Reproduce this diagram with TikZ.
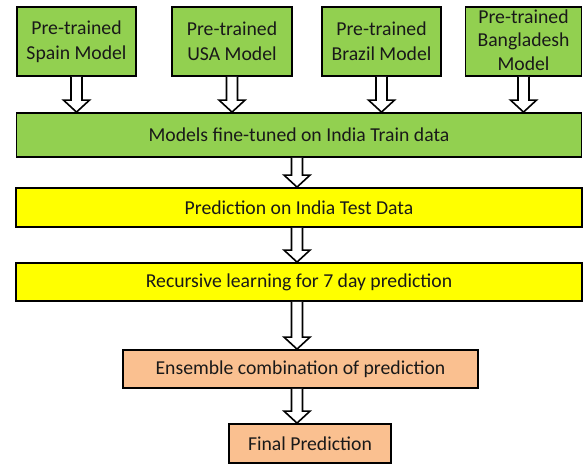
\documentclass[tikz,border=0pt]{standalone}
\usepackage{fontspec}
\setmainfont{Carlito}
\usetikzlibrary{calc}
\definecolor{grn}{HTML}{92D050}
\definecolor{ylw}{HTML}{FFFF00}
\definecolor{org}{HTML}{FAC090}
\tikzset{
  box/.style={draw=black, line width=1.8pt, inner sep=0pt, align=center, font=\fontsize{19.7}{25}\selectfont, text=black!90},
  gbox/.style={box, fill=grn},
  ybox/.style={box, fill=ylw},
  obox/.style={box, fill=org},
  arrowline/.style={draw=black, line width=1.6pt, fill=white, line join=miter},
}
\newcommand\fatarr[3]{%
  \draw[arrowline] let \p1=(#1.south), \p2=(#2.north) in
   (#3-5.5pt,\y1) -- (#3-5.5pt,\y2+12pt) -- (#3-13pt,\y2+12pt) -- (#3,\y2)
   -- (#3+13pt,\y2+12pt) -- (#3+5.5pt,\y2+12pt) -- (#3+5.5pt,\y1);}
\begin{document}
\begin{tikzpicture}[x=1pt,y=-1pt]
\useasboundingbox (0,0) rectangle (583,464);
\node[gbox, minimum width=119pt, minimum height=69pt] (spain) at (76.5,41.5) {Pre-trained\\Spain Model};
\node[gbox, minimum width=120pt, minimum height=69pt] (usa) at (232,41.5) {Pre-trained\\USA Model};
\node[gbox, minimum width=119pt, minimum height=69pt] (brazil) at (381.5,41.5) {Pre-trained\\Brazil Model};
\node[gbox, minimum width=116pt, minimum height=69pt] (bang) at (523.5,41.5) {};
\node[font=\fontsize{19.7}{23.5}\selectfont, align=center, text=black!90, inner sep=0pt] (bangtxt) at (523.5,40) {Pre-trained\\Bangladesh\\Model};
\node[gbox, minimum width=565pt, minimum height=44pt] (fine) at (299,135) {Models fine-tuned  on India Train data};
\node[ybox, minimum width=566pt, minimum height=39pt] (test) at (299,207.5) {Prediction on India Test Data};
\node[ybox, minimum width=566pt, minimum height=38pt] (rec) at (299,282) {Recursive learning for 7 day prediction};
\node[obox, minimum width=355pt, minimum height=38pt] (ens) at (300.5,369) {Ensemble combination  of prediction};
\node[obox, minimum width=162pt, minimum height=39pt] (final) at (310,443.5) {Final Prediction};
\fatarr{spain}{fine}{\x1}
\fatarr{usa}{fine}{\x1}
\fatarr{brazil}{fine}{\x1}
\fatarr{bang}{fine}{\x1}
\fatarr{fine}{test}{297pt}
\fatarr{test}{rec}{297pt}
\fatarr{rec}{ens}{297pt}
\fatarr{ens}{final}{297pt}
\end{tikzpicture}
\end{document}
